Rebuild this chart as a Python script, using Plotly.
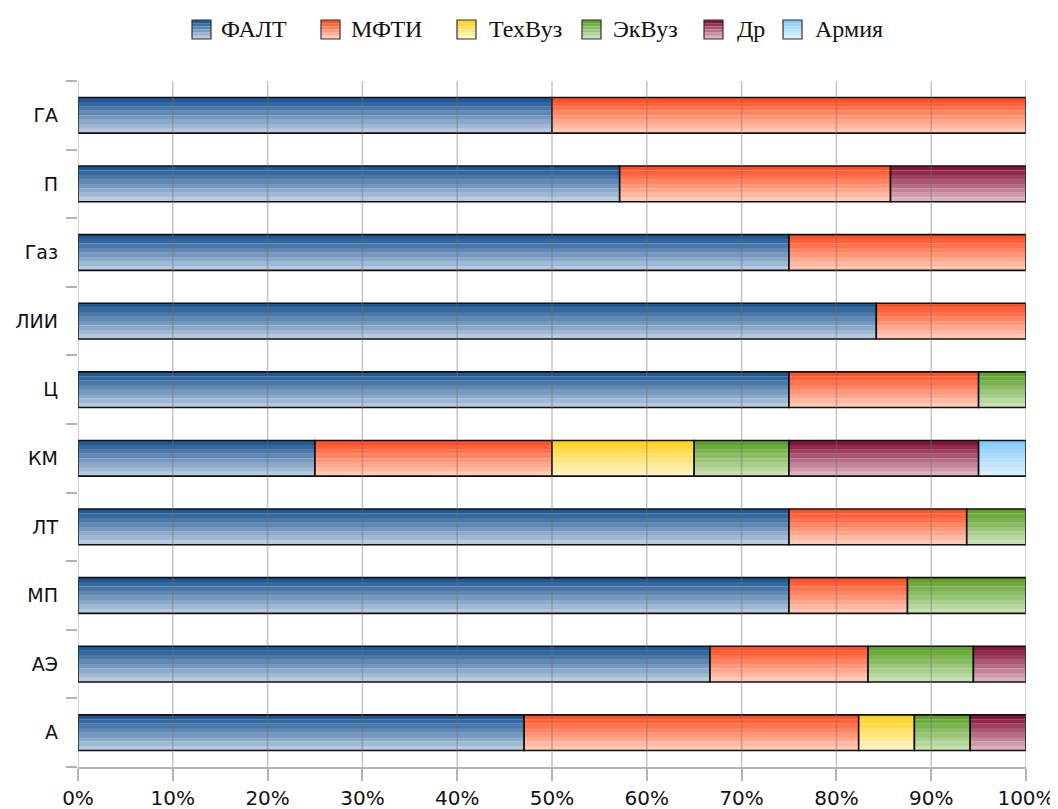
import plotly.graph_objects as go

categories = ["А", "АЭ", "МП", "ЛТ", "КМ", "Ц", "ЛИИ", "Газ", "П", "ГА"]

falt   = [47.06, 66.67, 75.0, 75.0, 25.0, 75.0, 84.21, 75.0, 57.14, 50.0]
mfti   = [35.29, 16.67, 12.5, 18.75, 25.0, 20.0, 15.79, 25.0, 28.57, 50.0]
tehvuz = [5.88, 0, 0, 0, 15.0, 0, 0, 0, 0, 0]
ekvuz  = [5.88, 11.11, 12.5, 6.25, 10.0, 5.0, 0, 0, 0, 0]
dr     = [5.88, 5.56, 0, 0, 20.0, 0, 0, 0, 14.29, 0]
armiya = [0, 0, 0, 0, 5.0, 0, 0, 0, 0, 0]

series_names = ["ФАЛТ", "МФТИ", "ТехВуз", "ЭкВуз", "Др", "Армия"]
series_values = [falt, mfti, tehvuz, ekvuz, dr, armiya]
top_colors = ["#1f5893", "#ff5125", "#ffd320", "#5fa12a", "#84153a", "#86cbff"]
bottom_colors = ["#b6c9de", "#ffc9b6", "#fff3c4", "#c7e1b4", "#dcb0bc", "#dbefff"]

x_ticks = [0, 10, 20, 30, 40, 50, 60, 70, 80, 90, 100]
x_tick_labels = [f"{t}%" for t in x_ticks]

# legend layout (page pixel positions of box left edges / text left edges)
legend_box_x = [192, 321, 457, 582, 704, 783]
legend_text_x = [219, 349, 487, 611, 735, 813]

N = 8
W = 0.52
PAGE_OFF = 8                      # default body margin of the html page
FIG_W, FIG_H = 1058 - PAGE_OFF, 809 - PAGE_OFF
ML, MR, MT, MB = 70, 32, 73, 42
PW, PH = FIG_W - ML - MR, FIG_H - MT - MB


def px2paper(x, y):
    fx, fy = x - PAGE_OFF, y - PAGE_OFF
    return (fx - ML) / PW, 1 - (fy - MT) / PH


def hex2rgb(h):
    h = h.lstrip("#")
    return tuple(int(h[i:i + 2], 16) for i in (0, 2, 4))


def mix(c0, c1, t):
    a, b = hex2rgb(c0), hex2rgb(c1)
    return "rgb(%d,%d,%d)" % tuple(round(a[i] + (b[i] - a[i]) * t) for i in range(3))


fig = go.Figure()

bases = [0.0] * len(categories)
for name, vals, c0, c1 in zip(series_names, series_values, top_colors, bottom_colors):
    xv = [v if v else None for v in vals]
    base = list(bases)
    for k in range(N):
        t = 1 - k / (N - 1)
        fig.add_trace(go.Bar(
            orientation="h", y=categories, x=xv, base=base,
            width=W / N + 0.002, offset=-W / 2 + k * W / N,
            marker=dict(color=mix(c0, c1, t), line=dict(width=0)),
            showlegend=False, hoverinfo="skip",
        ))
    fig.add_trace(go.Bar(
        orientation="h", y=categories, x=xv, base=base,
        width=W, offset=-W / 2,
        marker=dict(color="rgba(0,0,0,0)", line=dict(color="#111111", width=1.6)),
        showlegend=False, name=name,
        hovertemplate="%{y}: %{x:.1f}%<extra>" + name + "</extra>",
    ))
    bases = [b + (v or 0) for b, v in zip(bases, vals)]

# vertical gridlines drawn above the bars
for t in x_ticks:
    fig.add_shape(type="line", xref="x", yref="paper", x0=t, x1=t, y0=0, y1=1,
                  line=dict(color="rgba(110,110,110,0.38)", width=1.6), layer="above")

# custom legend with gradient boxes
BOX = 19
box_top = 20
for name, bx, tx, c0, c1 in zip(series_names, legend_box_x, legend_text_x, top_colors, bottom_colors):
    nb = 6
    for k in range(nb):
        y0 = box_top + k * BOX / nb
        xa, ya = px2paper(bx, y0)
        xb, yb = px2paper(bx + BOX, y0 + BOX / nb)
        fig.add_shape(type="rect", xref="paper", yref="paper", x0=xa, x1=xb, y0=ya, y1=yb,
                      fillcolor=mix(c0, c1, k / (nb - 1)), line=dict(width=0), layer="above")
    xa, ya = px2paper(bx, box_top)
    xb, yb = px2paper(bx + BOX, box_top + BOX)
    fig.add_shape(type="rect", xref="paper", yref="paper", x0=xa, x1=xb, y0=ya, y1=yb,
                  fillcolor="rgba(0,0,0,0)", line=dict(color="#333333", width=1.2), layer="above")
    ax, ay = px2paper(tx, box_top + BOX / 2)
    fig.add_annotation(xref="paper", yref="paper", x=ax, y=ay,
                       xanchor="left", yanchor="middle", text=name, showarrow=False,
                       font=dict(family="Liberation Serif, DejaVu Serif, serif", size=24, color="#111111"))

fig.update_layout(
    width=FIG_W, height=FIG_H,
    margin=dict(l=ML, r=MR, t=MT, b=MB),
    barmode="overlay",
    showlegend=False,
    plot_bgcolor="white", paper_bgcolor="white",
    font=dict(family="DejaVu Sans, sans-serif", size=19, color="#111111"),
    xaxis=dict(range=[0, 100], tickvals=x_ticks, ticktext=x_tick_labels,
               showgrid=False, zeroline=False, automargin=False,
               showline=True, linecolor="#b3b3b3", linewidth=2,
               ticks="outside", ticklen=12, tickcolor="#b3b3b3", tickwidth=2,
               tickfont=dict(size=20)),
    yaxis=dict(type="category", categoryorder="array", categoryarray=categories,
               range=[-0.5, len(categories) - 0.5],
               showgrid=False, zeroline=False, showline=False, automargin=False,
               ticks="outside", tickson="boundaries", ticklen=11,
               ticklabelstandoff=19,
               tickcolor="#b3b3b3", tickwidth=2, tickfont=dict(size=19)),
)

fig.write_html("out.html")
